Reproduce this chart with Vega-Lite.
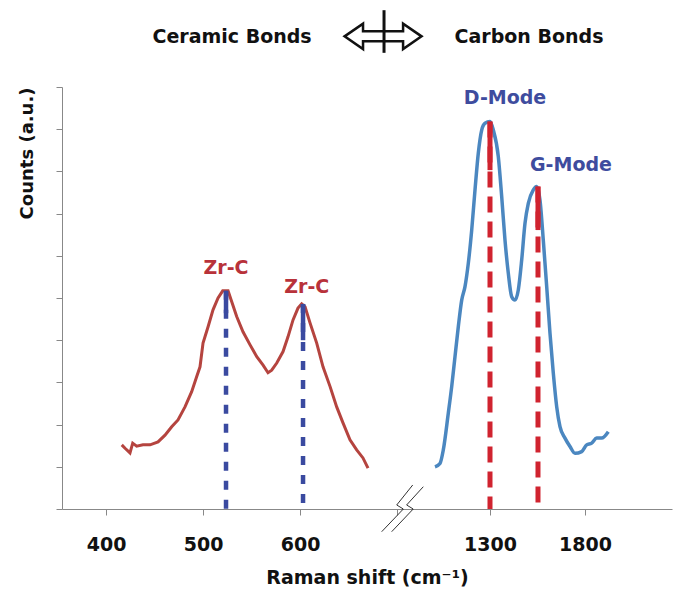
{
  "$schema": "https://vega.github.io/schema/vega-lite/v6.json",
  "width": 610,
  "height": 422,
  "autosize": {"type": "none"},
  "padding": {"left": 62, "top": 87, "right": 6, "bottom": 81},
  "config": {
    "view": {"stroke": null},
    "font": "DejaVu Sans",
    "axis": {
      "grid": false,
      "domainColor": "#888888",
      "tickColor": "#888888",
      "tickSize": 6,
      "labelFont": "DejaVu Sans",
      "labelFontWeight": "bold",
      "labelFontSize": 19,
      "labelColor": "#111111",
      "titleFont": "DejaVu Sans",
      "titleFontWeight": "bold",
      "titleColor": "#111111"
    }
  },
  "datasets": {
    "red": [
      {"x": 416.2, "y": 1.52}, {"x": 419.6, "y": 1.44}, {"x": 424.7, "y": 1.33}, {"x": 427.5, "y": 1.56},
      {"x": 431.6, "y": 1.49}, {"x": 438.1, "y": 1.52}, {"x": 445.4, "y": 1.52}, {"x": 453.6, "y": 1.59},
      {"x": 460.8, "y": 1.75}, {"x": 467.7, "y": 1.95}, {"x": 474.2, "y": 2.11}, {"x": 481.4, "y": 2.42},
      {"x": 488.3, "y": 2.78}, {"x": 493.5, "y": 3.14}, {"x": 496.9, "y": 3.37}, {"x": 500.0, "y": 3.93},
      {"x": 505.2, "y": 4.32}, {"x": 510.3, "y": 4.72}, {"x": 515.5, "y": 5.0}, {"x": 520.3, "y": 5.17},
      {"x": 525.8, "y": 5.17}, {"x": 529.6, "y": 4.91}, {"x": 534.7, "y": 4.56}, {"x": 541.2, "y": 4.2},
      {"x": 548.5, "y": 3.89}, {"x": 555.4, "y": 3.61}, {"x": 561.9, "y": 3.41}, {"x": 567.0, "y": 3.23},
      {"x": 570.8, "y": 3.29}, {"x": 576.0, "y": 3.46}, {"x": 582.5, "y": 3.73}, {"x": 587.6, "y": 4.08},
      {"x": 592.8, "y": 4.48}, {"x": 597.9, "y": 4.76}, {"x": 601.7, "y": 4.86}, {"x": 605.2, "y": 4.79},
      {"x": 610.3, "y": 4.41}, {"x": 617.2, "y": 3.93}, {"x": 623.7, "y": 3.37}, {"x": 631.0, "y": 2.9},
      {"x": 637.8, "y": 2.42}, {"x": 644.3, "y": 2.04}, {"x": 651.5, "y": 1.64}, {"x": 658.4, "y": 1.4},
      {"x": 664.9, "y": 1.21}, {"x": 670.1, "y": 0.97}
    ],
    "blue": [
      {"x": 1010.5, "y": 1.0}, {"x": 1036.8, "y": 1.08}, {"x": 1054.2, "y": 1.4}, {"x": 1080.5, "y": 2.27},
      {"x": 1098.4, "y": 2.9}, {"x": 1115.8, "y": 3.61}, {"x": 1133.2, "y": 4.32}, {"x": 1151.1, "y": 4.95},
      {"x": 1168.4, "y": 5.27}, {"x": 1185.8, "y": 5.82}, {"x": 1203.7, "y": 6.61}, {"x": 1221.1, "y": 7.56},
      {"x": 1238.4, "y": 8.43}, {"x": 1256.3, "y": 8.98}, {"x": 1273.7, "y": 9.14}, {"x": 1300.0, "y": 9.18},
      {"x": 1317.4, "y": 8.98}, {"x": 1343.7, "y": 8.35}, {"x": 1361.6, "y": 7.4}, {"x": 1378.9, "y": 6.37},
      {"x": 1396.3, "y": 5.59}, {"x": 1414.2, "y": 5.03}, {"x": 1431.6, "y": 4.95}, {"x": 1448.9, "y": 5.19},
      {"x": 1466.8, "y": 5.9}, {"x": 1484.2, "y": 6.77}, {"x": 1501.6, "y": 7.24}, {"x": 1527.9, "y": 7.56},
      {"x": 1545.8, "y": 7.64}, {"x": 1563.2, "y": 7.32}, {"x": 1580.5, "y": 6.37}, {"x": 1598.4, "y": 5.27},
      {"x": 1615.8, "y": 4.16}, {"x": 1633.2, "y": 3.22}, {"x": 1651.1, "y": 2.42}, {"x": 1668.4, "y": 1.95},
      {"x": 1694.7, "y": 1.68}, {"x": 1721.1, "y": 1.48}, {"x": 1747.4, "y": 1.32}, {"x": 1782.6, "y": 1.36},
      {"x": 1808.9, "y": 1.52}, {"x": 1835.3, "y": 1.56}, {"x": 1861.6, "y": 1.68}, {"x": 1887.9, "y": 1.68},
      {"x": 1922.6, "y": 1.83}
    ],
    "peaksL": [
      {"x": 523.7, "y": 5.17, "ysolid": 4.64, "label": "Zr-C", "ly": 5.71, "lx": 523.7},
      {"x": 603.1, "y": 4.86, "ysolid": 4.0, "label": "Zr-C", "ly": 5.27, "lx": 606.9}
    ],
    "peaksR": [
      {"x": 1300.0, "y": 9.18, "ysolid": 8.03, "label": "D-Mode", "ly": 9.75, "lx": 1378.9},
      {"x": 1552.6, "y": 7.64, "ysolid": 6.61, "label": "G-Mode", "ly": 8.15, "lx": 1726.3}
    ],
    "top": [
      {"x": 529.9, "y": 11.18, "label": "Ceramic Bonds"},
      {"x": 836.1, "y": 11.18, "label": "Carbon Bonds"}
    ],
    "arrow": [{"x": 685.6, "y": 11.2}],
    "vbar": [{"x": 686.6, "y": 11.82, "y2": 10.81}],
    "brk": [
      {"x": 716.2, "y": 0.569, "g": "a", "o": 1}, {"x": 699.7, "y": 0.095, "g": "a", "o": 2},
      {"x": 706.5, "y": 0.0, "g": "a", "o": 3}, {"x": 684.2, "y": -0.538, "g": "a", "o": 4},
      {"x": 727.1, "y": 0.528, "g": "b", "o": 1}, {"x": 709.9, "y": 0.095, "g": "b", "o": 2},
      {"x": 716.7, "y": 0.0, "g": "b", "o": 3}, {"x": 694.5, "y": -0.538, "g": "b", "o": 4}
    ]
  },
  "encoding": {
    "y": {
      "field": "y",
      "type": "quantitative",
      "scale": {"domain": [0, 10], "nice": false, "zero": false},
      "axis": {
        "values": [0, 1, 2, 3, 4, 5, 6, 7, 8, 9, 10],
        "labels": false,
        "title": "Counts (a.u.)",
        "titleFontSize": 18,
        "titleX": -26,
        "titleY": 0,
        "titleAlign": "right",
        "titleBaseline": "bottom",
        "titleAngle": -90
      }
    }
  },
  "layer": [
    {
      "encoding": {
        "x": {
          "field": "x",
          "type": "quantitative",
          "scale": {"domain": [354.6, 983.5], "nice": false, "zero": false},
          "axis": {
            "values": [400, 500, 600, 700],
            "format": "d",
            "labelExpr": "datum.value == 700 ? '' : datum.label",
            "labelBaseline": "alphabetic",
            "labelPadding": 35,
            "labelDx": 2,
            "title": "Raman shift (cm⁻¹)",
            "titleFontSize": 19,
            "titleBaseline": "alphabetic",
            "titleY": 74
          }
        }
      },
      "layer": [
        {
          "data": {"name": "red"},
          "mark": {"type": "line", "color": "#b5443f", "strokeWidth": 3},
          "encoding": {}
        },
        {
          "data": {"name": "peaksL"},
          "mark": {"type": "rule", "color": "#3a4aa0", "strokeWidth": 4.5, "strokeDash": [9, 10]},
          "encoding": {"y2": {"datum": 0}}
        },
        {
          "data": {"name": "peaksL"},
          "mark": {"type": "rule", "color": "#3a4aa0", "strokeWidth": 4.5},
          "encoding": {"y2": {"field": "ysolid"}}
        },
        {
          "data": {"name": "peaksL"},
          "mark": {"type": "text", "color": "#b8323a", "fontWeight": "bold", "fontSize": 19, "baseline": "middle"},
          "encoding": {"x": {"field": "lx", "type": "quantitative"}, "y": {"field": "ly", "type": "quantitative"}, "text": {"field": "label"}}
        },
        {
          "data": {"name": "top"},
          "mark": {"type": "text", "color": "#111111", "fontWeight": "bold", "fontSize": 19, "baseline": "middle"},
          "encoding": {"text": {"field": "label"}}
        },
        {
          "data": {"name": "arrow"},
          "mark": {
            "type": "point",
            "shape": "M -1 0 L -0.52 -0.33 L -0.52 -0.13 L 0.52 -0.13 L 0.52 -0.33 L 1 0 L 0.52 0.33 L 0.52 0.13 L -0.52 0.13 L -0.52 0.33 Z",
            "size": 5929,
            "filled": false,
            "stroke": "#111111",
            "strokeWidth": 2.5,
            "opacity": 1
          },
          "encoding": {}
        },
        {
          "data": {"name": "vbar"},
          "mark": {"type": "rule", "color": "#111111", "strokeWidth": 3},
          "encoding": {"y2": {"field": "y2"}}
        },
        {
          "data": {"name": "brk"},
          "mark": {"type": "line", "color": "#333333", "strokeWidth": 1},
          "encoding": {"detail": {"field": "g"}, "order": {"field": "o", "type": "quantitative"}}
        }
      ]
    },
    {
      "encoding": {
        "x": {
          "field": "x",
          "type": "quantitative",
          "scale": {"domain": [-952.6, 2257.9], "nice": false, "zero": false},
          "axis": {
            "values": [1300, 1800],
            "format": "d",
            "orient": "bottom",
            "domain": false,
            "labelBaseline": "alphabetic",
            "labelPadding": 35,
            "labelDx": 13,
            "title": null
          }
        }
      },
      "layer": [
        {
          "data": {"name": "blue"},
          "mark": {"type": "line", "color": "#4b87c0", "strokeWidth": 3.5, "interpolate": "monotone"},
          "encoding": {}
        },
        {
          "data": {"name": "peaksR"},
          "mark": {"type": "rule", "color": "#d0232f", "strokeWidth": 5, "strokeDash": [16, 9]},
          "encoding": {"y2": {"datum": 0}}
        },
        {
          "data": {"name": "peaksR"},
          "mark": {"type": "rule", "color": "#d0232f", "strokeWidth": 5},
          "encoding": {"y2": {"field": "ysolid"}}
        },
        {
          "data": {"name": "peaksR"},
          "mark": {"type": "text", "color": "#3e4c9e", "fontWeight": "bold", "fontSize": 19, "baseline": "middle"},
          "encoding": {"x": {"field": "lx", "type": "quantitative"}, "y": {"field": "ly", "type": "quantitative"}, "text": {"field": "label"}}
        }
      ]
    }
  ],
  "resolve": {"scale": {"x": "independent"}, "axis": {"x": "independent"}}
}
